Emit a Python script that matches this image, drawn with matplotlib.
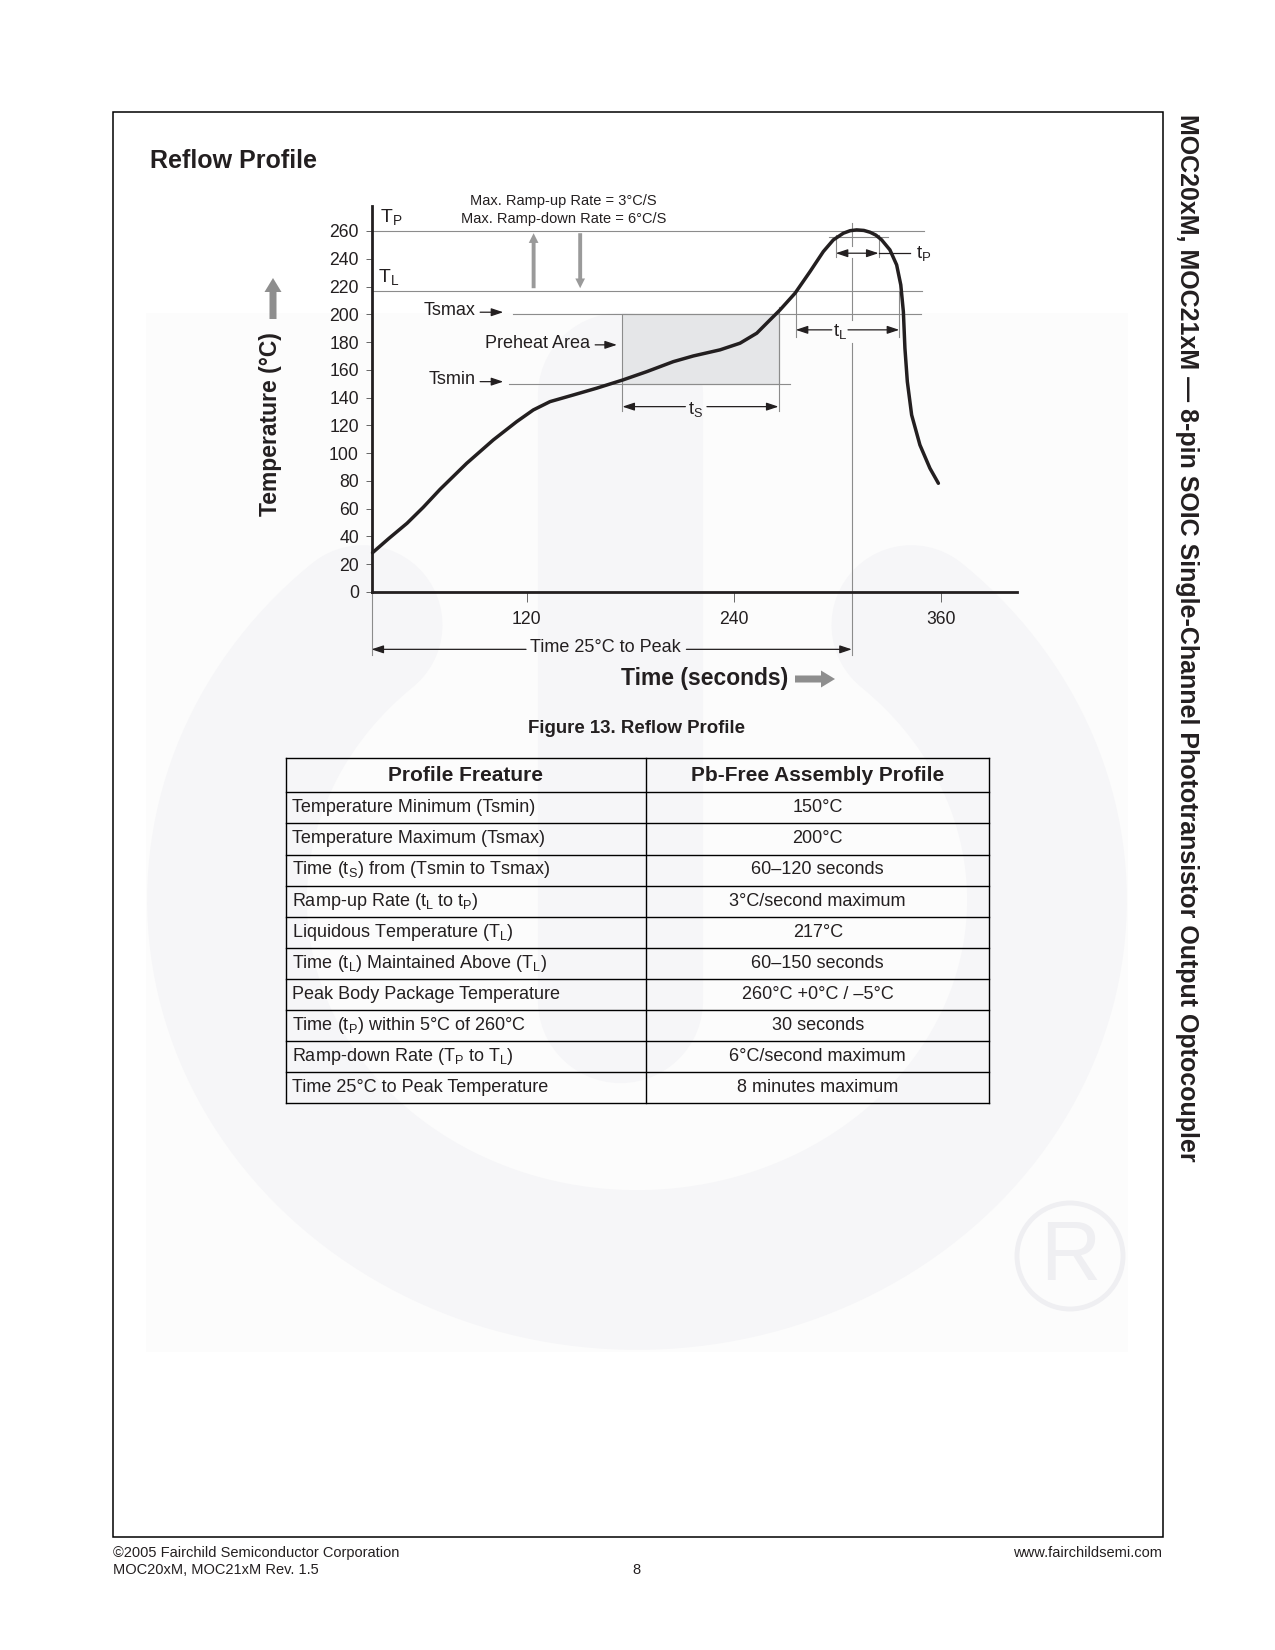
import numpy as np
import matplotlib.pyplot as plt
from matplotlib.patches import Rectangle, FancyArrow, Circle

plt.rcParams['font.family'] = ['Liberation Sans', 'DejaVu Sans']
plt.rcParams['mathtext.fontset'] = 'custom'
plt.rcParams['mathtext.rm'] = 'Liberation Sans'
plt.rcParams['mathtext.it'] = 'Liberation Sans'
plt.rcParams['mathtext.bf'] = 'Liberation Sans:bold'
plt.rcParams['mathtext.default'] = 'regular'

INK = '#231f20'
GRID = '#8c8c8c'

# reflow curve: time (s) and temperature (degC)
time_s = [30.6, 40.0, 50.6, 60.0, 69.8, 85.2, 100.6, 114.2, 123.8, 133.5,
          147.0, 160.6, 175.7, 189.6, 205.0, 216.6, 232.1, 243.7, 253.4, 261.1,
          266.9, 275.6, 284.3, 292.0, 297.8, 303.6, 307.5, 311.3, 315.5, 319.1,
          322.5, 325.8, 330.6, 334.5, 336.9, 338.4, 339.3, 340.7, 343.2, 348.0,
          353.8, 358.7]
temp_c = [28.3, 38.5, 49.5, 61.0, 74.0, 92.7, 109.5, 122.7, 131.1, 137.1,
          141.9, 146.8, 152.7, 158.7, 165.9, 170.0, 174.4, 179.2, 186.4, 196.0,
          203.2, 215.2, 230.8, 245.2, 253.6, 258.4, 260.2, 260.8, 260.4, 259.1,
          257.0, 253.6, 246.4, 235.6, 221.2, 201.9, 175.6, 151.5, 127.5, 105.9,
          89.1, 78.3]

# profile levels (degC)
ts_min, ts_max, t_liq, t_peak = 150, 200, 217, 260
# profile times (s)
preheat_start, preheat_end = 175.5, 266
tl_start, tl_end = 276, 336
tp_start, tp_end = 299.2, 324
peak_time = 308.5

y_ticks = list(range(0, 261, 20))
x_ticks = [120, 240, 360]

features = ['Temperature Minimum (Tsmin)',
            'Temperature Maximum (Tsmax)',
            'Time ($t_S$) from (Tsmin to Tsmax)',
            'Ramp-up Rate ($t_L$ to $t_P$)',
            'Liquidous Temperature ($T_L$)',
            'Time ($t_L$) Maintained Above ($T_L$)',
            'Peak Body Package Temperature',
            'Time ($t_P$) within 5°C of 260°C',
            'Ramp-down Rate ($T_P$ to $T_L$)',
            'Time 25°C to Peak Temperature']
values = ['150°C', '200°C', '60–120 seconds', '3°C/second maximum', '217°C',
          '60–150 seconds', '260°C +0°C / –5°C', '30 seconds',
          '6°C/second maximum', '8 minutes maximum']

fig = plt.figure(figsize=(12.75, 16.5), dpi=100)
fig.patch.set_facecolor('white')

# page layer in pixel coordinates
bg = fig.add_axes([0, 0, 1, 1], zorder=0)
bg.set_xlim(0, 1275)
bg.set_ylim(1650, 0)
bg.axis('off')

# faint logo watermark
bg.add_patch(Rectangle((146, 313), 982, 1039, color='#fcfcfc', lw=0, zorder=0))
ang = np.radians(np.linspace(-138, 138, 160))
bg.plot(637 - 410 * np.sin(ang), 900 + 370 * np.cos(ang), color='#f6f6f8',
        lw=115, solid_capstyle='round', zorder=1)
bg.plot([620, 620], [395, 1000], color='#f6f6f8', lw=119,
        solid_capstyle='round', zorder=1)
bg.add_patch(Circle((1070, 1256), 53, fill=False, ec='#efeff2', lw=3.5, zorder=1))
bg.text(1070, 1258, 'R', fontsize=60, color='#efeff2', ha='center', va='center', zorder=1)

# page frame, title, side title, footer
bg.add_patch(Rectangle((112.6, 111.5), 1049.9, 1425.5, fill=False, ec='black', lw=1.1, zorder=5))
bg.text(150, 168, 'Reflow Profile', fontsize=18, fontweight='bold', color=INK, va='baseline')
side = bg.text(1187, 113.6,
               'MOC20xM, MOC21xM — 8-pin SOIC Single-Channel Phototransistor Output Optocoupler',
               rotation=-90, ha='center', va='top', fontsize=16.3, fontweight='bold', color=INK)
bg.text(112.6, 1553, '©2005 Fairchild Semiconductor Corporation', fontsize=10.5, color=INK, va='center')
bg.text(112.6, 1570.5, 'MOC20xM, MOC21xM Rev. 1.5', fontsize=10.5, color=INK, va='center')
bg.text(636.5, 1570.5, '8', fontsize=10.5, color=INK, va='center', ha='center')
bg.text(1162.5, 1553, 'www.fairchildsemi.com', fontsize=10.5, color=INK, va='center', ha='right')

# chart
ax = fig.add_axes([371.5 / 1275, 1 - 592 / 1650, 645 / 1275, 386 / 1650], zorder=2)
ax.patch.set_alpha(0)
ax.set_xlim(30, 404)
ax.set_ylim(0, 278)
for s in ['top', 'right']:
    ax.spines[s].set_visible(False)
for s in ['left', 'bottom']:
    ax.spines[s].set_linewidth(2.0)
    ax.spines[s].set_color(INK)
ax.set_xticks(x_ticks)
ax.set_xticklabels([str(v) for v in x_ticks])
ax.set_yticks(y_ticks)
ax.tick_params(axis='y', length=4, width=0.7, color='#666666', pad=5, labelsize=12.7, labelcolor=INK)
ax.tick_params(axis='x', length=7, width=0.7, color='#666666', pad=7, labelsize=12.7, labelcolor=INK)

g = dict(color=GRID, lw=0.8, clip_on=False, zorder=2)
ax.plot([30, 350.4], [t_peak, t_peak], **g)
ax.plot([30, 349], [t_liq, t_liq], **g)
ax.plot([112, 348.5], [ts_max, ts_max], **g)
ax.plot([110, 272.7], [ts_min, ts_min], **g)
ax.add_patch(Rectangle((preheat_start, ts_min), preheat_end - preheat_start, ts_max - ts_min,
                       fc='#e5e6e8', ec=GRID, lw=0.8, zorder=1))
ax.plot([preheat_start, preheat_start], [ts_min, 130], **g)
ax.plot([preheat_end, preheat_end], [205.5, 130], **g)
ax.plot([tl_start, tl_start], [t_liq, 184], **g)
ax.plot([tl_end, tl_end], [t_liq, 184], **g)
ax.plot([peak_time, peak_time], [265.8, 249], **g)
ax.plot([peak_time, peak_time], [240.5, 196], **g)
ax.plot([peak_time, peak_time], [179, -45.4], **g)
ax.plot([30, 30], [0, -45.4], **g)
ax.plot([295, 329.4], [t_peak - 4.5, t_peak - 4.5], **g)
ax.plot([tp_start, tp_start], [257.2, 241.1], **g)
ax.plot([tp_end, tp_end], [257.2, 241.1], **g)

ax.plot(time_s, temp_c, color=INK, lw=2.5, solid_joinstyle='round', solid_capstyle='round',
        zorder=4, clip_on=False)


def arrow(x0, y0, x1, y1, style='-|>'):
    ax.annotate('', xy=(x1, y1), xytext=(x0, y0), annotation_clip=False,
                arrowprops=dict(arrowstyle=style + ',head_length=0.6,head_width=0.2',
                                color=INK, lw=0.9, shrinkA=0, shrinkB=0, mutation_scale=12))


# t_s
arrow(212, 133.5, preheat_start, 133.5)
arrow(224.5, 133.5, preheat_end, 133.5)
ax.text(218, 131.5, '$t_S$', fontsize=13, color=INK, ha='center', va='center')
# t_L
arrow(296.9, 188.8, tl_start, 188.8)
arrow(306.3, 188.8, tl_end, 188.8)
ax.text(301.7, 187.5, '$t_L$', fontsize=13.5, color=INK, ha='center', va='center')
# t_P
arrow(tp_start, 244, tp_end, 244, style='<|-|>')
ax.plot([tp_end, 342.2], [244, 244], color=INK, lw=0.9, clip_on=False)
ax.text(345.8, 244, '$t_P$', fontsize=13.5, color=INK, ha='left', va='center')
# time 25C to peak
arrow(119.6, -41.3, 30, -41.3)
arrow(212.6, -41.3, peak_time, -41.3)
ax.text(165.7, -40.3, 'Time 25°C to Peak', fontsize=13, color=INK, ha='center', va='center')

# level labels
ax.text(34.9, 270.4, '$T_P$', fontsize=14, color=INK, ha='left', va='center')
ax.text(33.9, 227, '$T_L$', fontsize=14, color=INK, ha='left', va='center')
ax.text(90.2, 203, 'Tsmax', fontsize=13, color=INK, ha='right', va='center')
arrow(93, 201.5, 106.4, 201.5)
ax.text(156.8, 179.2, 'Preheat Area', fontsize=13, color=INK, ha='right', va='center')
arrow(159.7, 178, 172.3, 178)
ax.text(90.2, 152.7, 'Tsmin', fontsize=13, color=INK, ha='right', va='center')
arrow(93, 151.5, 106.4, 151.5)

# ramp rate note
ax.text(141.3, 281.7, 'Max. Ramp-up Rate = 3°C/S', fontsize=10.5, color=INK,
        ha='center', va='center', clip_on=False)
ax.text(141.3, 268.7, 'Max. Ramp-down Rate = 6°C/S', fontsize=10.5, color=INK,
        ha='center', va='center', clip_on=False)
gray_arrow = dict(arrowstyle='simple,head_length=0.5,head_width=0.5,tail_width=0.2',
                  color='#9a9a9a', lw=0, shrinkA=0, shrinkB=0, mutation_scale=14)
ax.annotate('', xy=(124, 258.4), xytext=(124, 218.8), arrowprops=gray_arrow, annotation_clip=False)
ax.annotate('', xy=(151, 218.8), xytext=(151, 258.4), arrowprops=gray_arrow, annotation_clip=False)

# axis titles with block arrows
bg.text(271, 424, 'Temperature (°C)', rotation=90, fontsize=16.5, fontweight='bold',
        color=INK, ha='center', va='center')
bg.add_patch(FancyArrow(273, 319, 0, -41, width=7, head_width=17, head_length=14,
                        length_includes_head=True, color='#8e8e8e', lw=0))
bg.text(705, 679, 'Time (seconds)', fontsize=16.5, fontweight='bold', color=INK,
        ha='center', va='center')
bg.add_patch(FancyArrow(795, 679, 40, 0, width=7, head_width=17, head_length=14,
                        length_includes_head=True, color='#8e8e8e', lw=0))
bg.text(636.5, 728.3, 'Figure 13. Reflow Profile', fontsize=13.4, fontweight='bold',
        color=INK, ha='center', va='center')

# table
x_left, x_mid, x_right = 285.5, 646, 989.4
y_top, y_head = 758.3, 792.3
row_h = 31.1
y_bottom = y_head + row_h * len(features)
tl = dict(color='black', lw=1.0, zorder=3)
for y in [y_top, y_head] + [y_head + row_h * (i + 1) for i in range(len(features))]:
    bg.plot([x_left, x_right], [y, y], **tl)
for x in [x_left, x_mid, x_right]:
    bg.plot([x, x], [y_top, y_bottom], **tl)
bg.text((x_left + x_mid) / 2, y_top + 22.4, 'Profile Freature', fontsize=15,
        fontweight='bold', color=INK, ha='center', va='baseline')
bg.text((x_mid + x_right) / 2, y_top + 22.4, 'Pb-Free Assembly Profile', fontsize=15,
        fontweight='bold', color=INK, ha='center', va='baseline')
for i, (f, v) in enumerate(zip(features, values)):
    yb = y_head + row_h * i + 20
    bg.text(x_left + 7, yb, f, fontsize=13, color=INK, ha='left', va='baseline')
    bg.text((x_mid + x_right) / 2, yb, v, fontsize=13, color=INK, ha='center', va='baseline')

# fit side title to the page height
fig.canvas.draw()
ext = side.get_window_extent()
side.set_fontsize(16.3 * 1049 / ext.height)

fig.savefig('out.png', dpi=100, facecolor='white')
